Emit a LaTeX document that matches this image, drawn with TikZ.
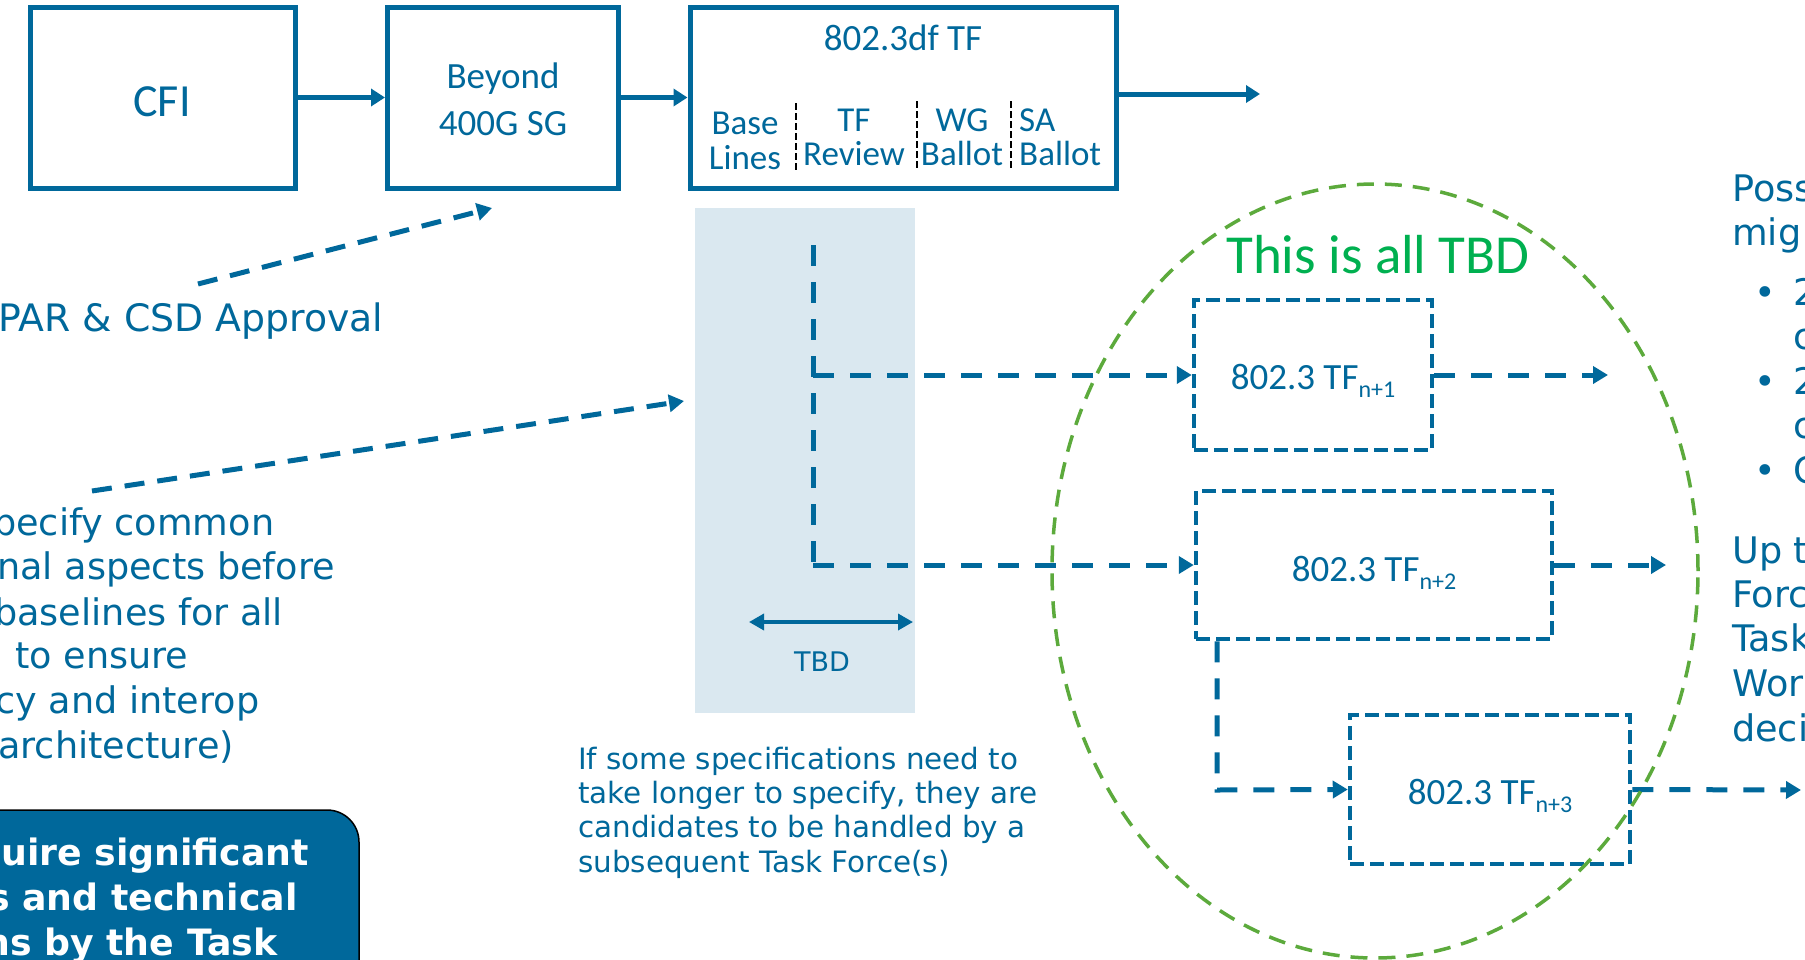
\documentclass[tikz,border=0pt]{standalone}
\usepackage{fontspec}
\setmainfont{DejaVu Sans}
\newfontfamily\calfont{Carlito}
\newfontfamily\verfont{DejaVu Sans}
\usetikzlibrary{arrows.meta,shapes.geometric}
\definecolor{ieeeblue}{RGB}{0,104,155}
\definecolor{shadeblue}{RGB}{218,232,240}
\definecolor{ellgreen}{RGB}{92,170,60}
\definecolor{tbdgreen}{RGB}{0,176,80}
\newcommand{\setfs}[2]{\fontsize{#1pt}{#2pt}\selectfont}
\newcommand{\tfsub}[1]{\raisebox{-8pt}{\setfs{24}{24}#1}}
\begin{document}
\begin{tikzpicture}[x=1pt,y=-1pt,
  solidbox/.style={draw=ieeeblue, line width=5pt, rectangle, inner sep=0pt},
  dashbox/.style={draw=ieeeblue, line width=4.5pt, dash pattern=on 14pt off 6pt, rectangle, inner sep=0pt},
  flow/.style={draw=ieeeblue, line width=5pt, -{Triangle[length=14pt,width=17pt]}},
  dflow/.style={draw=ieeeblue, line width=5pt, dash pattern=on 21pt off 16pt, -{Triangle[length=15pt,width=17pt]}},
  dline/.style={draw=ieeeblue, line width=5pt, dash pattern=on 21pt off 16pt},
  sepline/.style={draw=black, line width=1.8pt, dash pattern=on 7pt off 3pt},
  boxlbl/.style={text=ieeeblue, inner sep=0pt, font={\calfont\setfs{37}{44}}},
  sublbl/.style={text=ieeeblue, inner sep=0pt, font={\calfont\setfs{35}{42}}},
  vlbl/.style={text=ieeeblue, inner sep=0pt, font={\verfont\setfs{36.6}{44}}},
  wlbl/.style={text=white, inner sep=0pt, font={\verfont\bfseries\setfs{36.3}{44}}}
]
\useasboundingbox (0,0) rectangle (1805,959);
\fill[white] (0,0) rectangle (1805,959);
\clip (0,0) rectangle (1805,959);

% top row boxes
\node[solidbox, minimum width=265.5pt, minimum height=181pt] (cfi) at (162.75,97.5) {};
\node[boxlbl, anchor=base, font={\calfont\setfs{46}{54}}] (cfit) at (162,116) {CFI};
\node[solidbox, minimum width=231pt, minimum height=181pt] (beyond) at (503,97.5) {};
\node[boxlbl, anchor=base] (bey1) at (503,88) {Beyond};
\node[boxlbl, anchor=base] (bey2) at (503,135) {400G SG};
\node[solidbox, minimum width=426pt, minimum height=181pt] (tfbox) at (903,97.5) {};
\node[boxlbl, anchor=base] (tft) at (903,50) {802.3df TF};

\node[sublbl, anchor=base] (base1) at (745,134) {Base};
\node[sublbl, anchor=base] (base2) at (745,169) {Lines};
\node[sublbl, anchor=base] (rev1) at (854,131) {TF};
\node[sublbl, anchor=base] (rev2) at (854,165) {Review};
\node[sublbl, anchor=base] (wg1) at (962,131) {WG};
\node[sublbl, anchor=base] (wg2) at (962,165) {Ballot};
\node[sublbl, anchor=base west] (sa1) at (1019,131) {SA};
\node[sublbl, anchor=base west] (sa2) at (1019,165) {Ballot};

\coordinate (s1t) at (796,103); \coordinate (s1b) at (796,171);
\coordinate (s2t) at (917,101); \coordinate (s2b) at (917,169);
\coordinate (s3t) at (1011,101); \coordinate (s3b) at (1011,169);
\draw[sepline] (s1t) -- (s1b);
\draw[sepline] (s2t) -- (s2b);
\draw[sepline] (s3t) -- (s3b);

\draw[flow] (cfi.east) -- (beyond.west);
\draw[flow] (beyond.east) -- (tfbox.west);
\coordinate (tfout) at (1260,94);
\draw[flow] (tfbox.east |- tfout) -- (tfout);

% shaded band
\node[fill=shadeblue, inner sep=0pt, minimum width=220pt, minimum height=505pt] (band) at (805,460.5) {};

% left annotations
\node[vlbl, anchor=base west, font={\verfont\setfs{37.8}{44}}] (par) at (-2,331) {PAR \& CSD Approval};
\coordinate (a1s) at (198,284);
\coordinate (a1e) at (492,208);
\draw[dflow, dash pattern=on 20pt off 13pt] (a1s) -- (a1e);
\coordinate (a2s) at (92,491);
\coordinate (a2e) at (684,401);
\draw[dflow, dash pattern=on 20pt off 13pt] (a2s) -- (a2e);

\node[vlbl, anchor=base west] (l1) at (-7,535) {pecify common};
\node[vlbl, anchor=base west] (l2) at (-3,579) {nal aspects before};
\node[vlbl, anchor=base west] (l3) at (-6,625) {baselines for all};
\node[vlbl, anchor=base west] (l4) at (15,668) {to ensure};
\node[vlbl, anchor=base west] (l5) at (-5,713) {cy and interop};
\node[vlbl, anchor=base west] (l6) at (-2,758) {architecture)};

% bottom-left blue box
\node[draw=black, fill=ieeeblue, line width=1.5pt, rounded corners=32pt, inner sep=0pt,
      minimum width=420pt, minimum height=220pt] (bluebox) at (149,920) {};
\node[wlbl, anchor=base west] (b1) at (1,865) {uire significant};
\node[wlbl, anchor=base west] (b2) at (-12,910) {s and technical};
\node[wlbl, anchor=base west] (b3) at (-16,955) {ns by the Task};

% TBD span
\coordinate (dl) at (749,622);
\coordinate (dr) at (913,622);
\draw[draw=ieeeblue, line width=3.5pt, {Triangle[length=15pt,width=16pt]}-{Triangle[length=15pt,width=16pt]}] (dl) -- (dr);
\node[text=ieeeblue, inner sep=0pt, anchor=base, font={\verfont\setfs{27}{32}}] (tbd) at (822,671) {TBD};

\node[text=ieeeblue, inner sep=0pt, anchor=base west, align=left, font={\verfont\setfs{29.4}{34.3}}] (note) at (578,872)
  {If some specifications need to\\take longer to specify, they are\\candidates to be handled by a\\subsequent Task Force(s)};

% task force boxes
\node[dashbox, minimum width=238pt, minimum height=150pt] (n1) at (1313,375) {};
\node[dashbox, minimum width=356pt, minimum height=148pt] (n2) at (1374,565) {};
\node[dashbox, minimum width=280pt, minimum height=149pt] (n3) at (1490,789.5) {};
\node[boxlbl, anchor=base] (n1t) at (1313,389) {802.3 TF\tfsub{n+1}};
\node[boxlbl, anchor=base] (n2t) at (1374,581) {802.3 TF\tfsub{n+2}};
\node[boxlbl, anchor=base] (n3t) at (1490,804) {802.3 TF\tfsub{n+3}};

\coordinate (vtop) at (813,245);
\coordinate (vbot) at (813,565);
\draw[dline] (vtop) -- (vbot);
\draw[dflow] (vtop |- n1.west) -- (n1.west);
\draw[dflow] (vbot) -- (n2.west);
\coordinate (n1o) at (1608,375);
\coordinate (n2o) at (1666,565);
\coordinate (n3o) at (1801,790);
\draw[dflow] (n1.east) -- (n1o);
\draw[dflow] (n2.east) -- (n2o);
\draw[dflow] (n3.east) -- (n3o);
\coordinate (n23) at (1217,790);
\draw[dflow] (n23 |- n2.south) -- (n23) -- (n3.west);

% TBD zone
\node[ellipse, draw=ellgreen, line width=3.5pt, dash pattern=on 17pt off 11pt, inner sep=0pt,
      minimum width=646pt, minimum height=774pt] (zone) at (1375,571) {};
\node[text=tbdgreen, inner sep=0pt, anchor=base, font={\calfont\setfs{55}{66}}] (zonet) at (1378,273) {This is all TBD};

% right-hand text (cut by the frame)
\node[vlbl, anchor=base west] (r1) at (1732,201) {Poss};
\node[vlbl, anchor=base west] (r2) at (1732,245) {mig};
\node[vlbl, anchor=base] (bu1) at (1765,305) {•};
\node[vlbl, anchor=base west] (r3) at (1793,305) {2};
\node[vlbl, anchor=base west] (r4) at (1793,349.5) {c};
\node[vlbl, anchor=base] (bu2) at (1765,394) {•};
\node[vlbl, anchor=base west] (r5) at (1793,394) {2};
\node[vlbl, anchor=base west] (r6) at (1793,438.5) {c};
\node[vlbl, anchor=base] (bu3) at (1765,483) {•};
\node[vlbl, anchor=base west] (r7) at (1793,483) {C};
\node[vlbl, anchor=base west] (r8) at (1732,563) {Up t};
\node[vlbl, anchor=base west] (r9) at (1732,607) {Forc};
\node[vlbl, anchor=base west] (r10) at (1732,651) {Task};
\node[vlbl, anchor=base west] (r11) at (1732,696) {Wor};
\node[vlbl, anchor=base west] (r12) at (1732,741) {deci};
\end{tikzpicture}
\end{document}
